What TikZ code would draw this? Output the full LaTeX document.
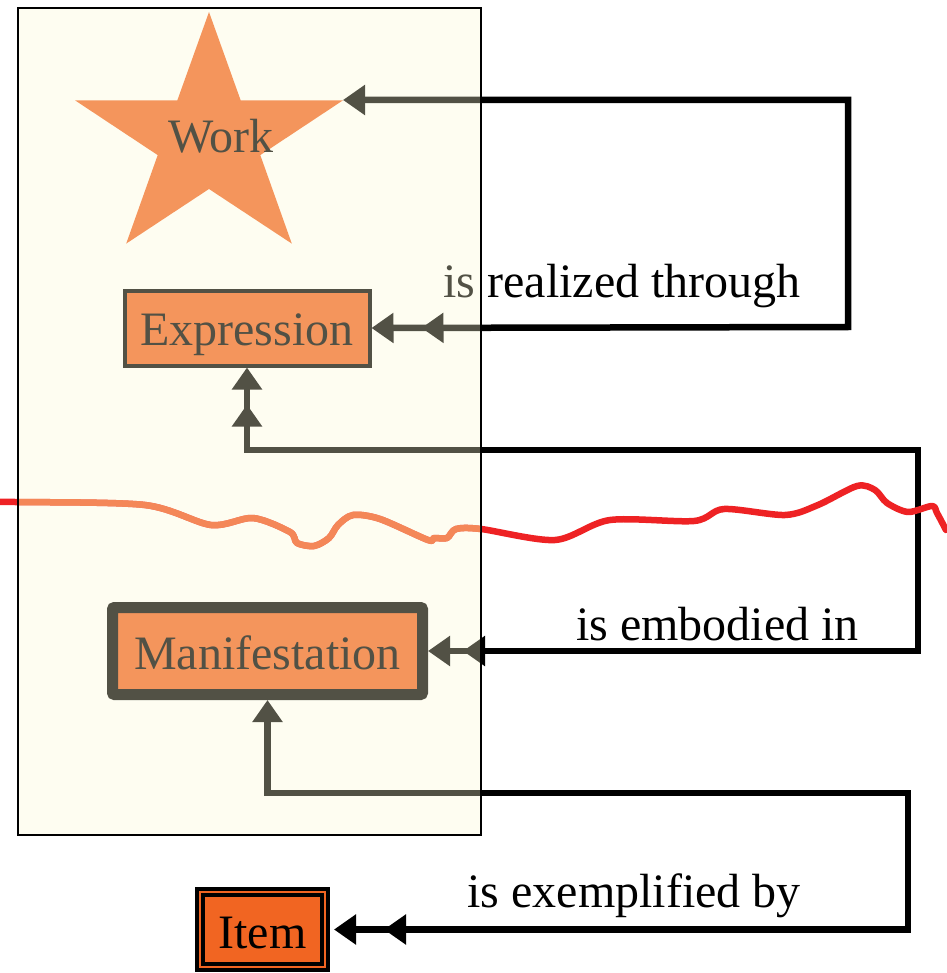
\documentclass[tikz,border=0pt]{standalone}
\usepackage{fontspec}
\setmainfont{Liberation Serif}
\usetikzlibrary{arrows.meta}
\definecolor{frbr}{RGB}{241,101,34}
\definecolor{veil}{RGB}{251,248,212}
\definecolor{redline}{RGB}{238,34,36}
\definecolor{salmon}{RGB}{244,135,88}
\begin{document}
\begin{tikzpicture}[x=1pt,y=-1pt,
  every node/.style={font=\fontsize{48}{58}\selectfont, inner sep=0pt},
  conn/.style={line width=6.5pt, draw=black},
  entity/.style={draw=black, fill=frbr, text=black, text depth=0pt},
  lbl/.style={anchor=base, text=black},
  squiggle/.style={line width=6.5pt, line cap=round, line join=round}]
\useasboundingbox (0,0) rectangle (946,973);
% star for Work
\fill[frbr] (209,12) -- (240.7,100.4) -- (342.9,100.4) -- (260.3,155.1) -- (291.8,243.6)
  -- (209,189) -- (126.2,243.6) -- (157.7,155.1) -- (75.1,100.4) -- (177.3,100.4) -- cycle;
\node[anchor=base, text=black] (work) at (221,153) {Work};
\coordinate (worktip) at (343,100);
% entities
\node[entity, line width=4pt, minimum width=245pt, minimum height=75pt, text height=34pt] (expr) at (247,328) {Expression};
\node[entity, line width=11pt, rounded corners=2pt, minimum width=310pt, minimum height=87pt, text height=36pt] (manif) at (267.5,651) {Manifestation};
\node[entity, line width=4pt, double=frbr, double distance=2.5pt, outer sep=9pt, minimum width=125pt, minimum height=75pt, text height=38pt] (item) at (262.5,929.5) {Item};
% connectors
\draw[conn, {Triangle[length=22pt,width=29pt]Triangle[length=22pt,width=29pt,sep=28pt]}-{Triangle[length=22pt,width=29pt]}]
  (expr.east) -- (848,327) -- (848,100) -- (worktip);
\draw[conn, {Triangle[length=22pt,width=29pt]Triangle[length=22pt,width=29pt,sep=15pt]}-{Triangle[length=22pt,width=29pt,sep=13pt]Triangle[length=22pt,width=29pt]}]
  (expr.south) |- (918,450) |- (manif.east);
\draw[conn, {Triangle[length=22pt,width=29pt]}-{Triangle[length=22pt,width=29pt,sep=28pt]Triangle[length=22pt,width=29pt]}]
  (manif.south) |- (908,793) |- (item.east);
% labels
\node[lbl] (l1) at (622,297) {is realized through};
\node[lbl] (l2) at (717.5,640) {is embodied in};
\node[lbl] (l3) at (634,907) {is exemplified by};
% red line
\def\squigglepath{plot[smooth, tension=0.5] coordinates {(0,502) (15,502) (145,505) (211,525) (253,518)
  (290,532) (297,543) (314,546) (329,538) (338,525) (353,515) (380,519) (428,540)
  (434,538) (447,538) (456,529) (481,529) (555,540) (610,520) (694,521) (724,509)
  (785,515) (818,505) (857,486) (875,490) (887,503) (908,512) (932,506) (937,513) (946,530)}}
\draw[redline, squiggle] \squigglepath;
% translucent box on top
\draw[line width=2pt, draw=black, fill=veil, fill opacity=0.33] (18,8) rectangle (481,835);
\begin{scope}
  \clip (19,9) rectangle (480,834);
  \draw[salmon, squiggle] \squigglepath;
\end{scope}
\end{tikzpicture}
\end{document}
